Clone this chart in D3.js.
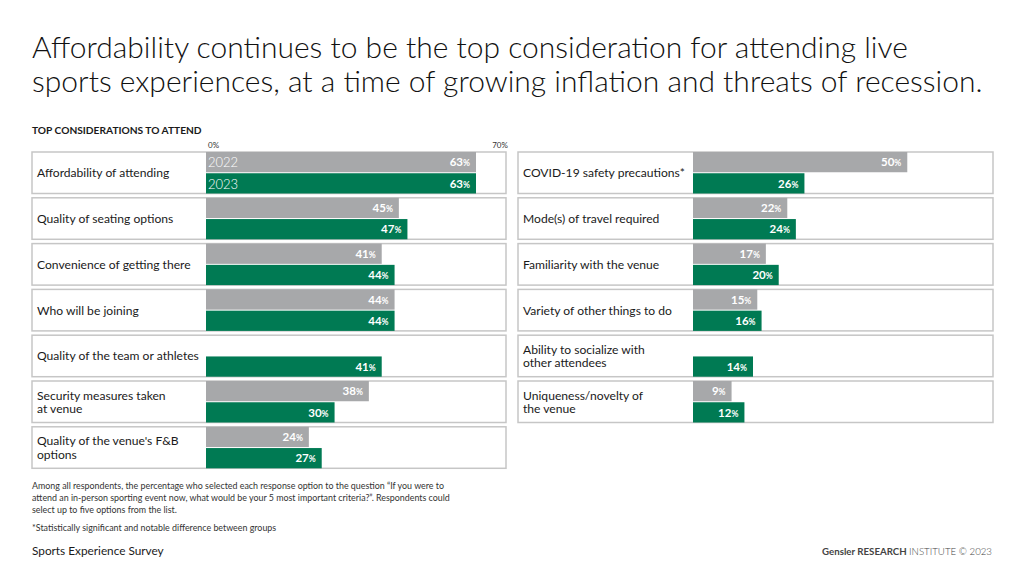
<!DOCTYPE html>
<html><head><meta charset="utf-8">
<script src="https://cdn.jsdelivr.net/npm/d3@7"></script>
<style>body{margin:0;background:#fff;} svg{display:block;}</style>
</head><body>
<script>
const leftCategories = [
  ["Affordability of attending"],
  ["Quality of seating options"],
  ["Convenience of getting there"],
  ["Who will be joining"],
  ["Quality of the team or athletes"],
  ["Security measures taken", "at venue"],
  ["Quality of the venue's F&B", "options"]
];
const left2022 = [63, 45, 41, 44, null, 38, 24];
const left2023 = [63, 47, 44, 44, 41, 30, 27];
const rightCategories = [
  ["COVID-19 safety precautions*"],
  ["Mode(s) of travel required"],
  ["Familiarity with the venue"],
  ["Variety of other things to do"],
  ["Ability to socialize with", "other attendees"],
  ["Uniqueness/novelty of", "the venue"]
];
const right2022 = [50, 22, 17, 15, null, 9];
const right2023 = [26, 24, 20, 16, 14, 12];
const seriesNames = ["2022", "2023"];
const axisTicks = [0, 70];

const W = 1024, H = 576;
const GRAY = "#a7a8aa", GREEN = "#007a53", BORDER = "#c6c6c6", TEXT = "#1a1a1a";
const FONT = "Lato, 'Open Sans', sans-serif";

const svg = d3.select("body").append("svg").attr("width", W).attr("height", H)
  .style("font-family", FONT);

// Title
const title = ["Affordability continues to be the top consideration for attending live",
  "sports experiences, at a time of growing inflation and threats of recession."];
svg.append("g").selectAll("text").data(title).join("text")
  .attr("x", 32).attr("y", (d, i) => 58 + i * 34)
  .attr("font-size", 30).attr("font-weight", 300).attr("fill", "#111")
  .text(d => d);

svg.append("text").attr("x", 32).attr("y", 134).attr("font-size", 10.2)
  .attr("font-weight", 700).attr("fill", TEXT).text("TOP CONSIDERATIONS TO ATTEND");

function panel(cats, v22, v23, boxX0, barX0, showAxis) {
  const x = d3.scaleLinear().domain([0, 70]).range([barX0, barX0 + 300]);
  const rowTop = i => 152 + i * 45.8;
  const boxH = 41.5;
  const g = svg.append("g");

  if (showAxis) {
    g.selectAll("text.tick").data(axisTicks).join("text").attr("class", "tick")
      .attr("x", d => x(d) + (d === 0 ? 2 : -6)).attr("y", 148)
      .attr("text-anchor", d => d === 0 ? "start" : "middle")
      .attr("font-size", 8).attr("fill", "#333")
      .text(d => d + "%");
  }
  cats.forEach((lines, i) => {
    const y0 = rowTop(i);
    g.append("rect").attr("x", boxX0).attr("y", y0).attr("width", x(70) - boxX0).attr("height", boxH)
      .attr("fill", "#fff").attr("stroke", BORDER).attr("stroke-width", 1.5);
    const lh = 13.5;
    const cy = y0 + boxH / 2 + 4.5 - (lines.length - 1) * lh / 2;
    lines.forEach((t, j) => {
      g.append("text").attr("x", boxX0 + 5).attr("y", cy + j * lh)
        .attr("font-size", 12.1).attr("fill", TEXT).text(t);
    });
    const vals = [v22[i], v23[i]];
    const bh = boxH / 2;
    vals.forEach((v, k) => {
      if (v == null) return;
      const by = y0 + k * bh + (k === 1 ? 0.5 : 0);
      g.append("rect").attr("x", x(0)).attr("y", by).attr("width", x(v) - x(0)).attr("height", bh - 0.5)
        .attr("fill", k === 0 ? GRAY : GREEN);
      const t = g.append("text").attr("x", x(v) - 6).attr("y", by + bh / 2 + 4)
        .attr("text-anchor", "end").attr("fill", "#fff").attr("font-weight", 700).attr("font-size", 11.5);
      t.append("tspan").text(v);
      t.append("tspan").attr("font-size", 8.5).text("%");
      if (i === 0 && showAxis) {
        g.append("text").attr("x", x(0) + 2).attr("y", by + bh / 2 + 5)
          .attr("font-size", 13).attr("fill", "#fff").attr("font-weight", 300).text(seriesNames[k]);
      }
    });
  });
}
panel(leftCategories, left2022, left2023, 32, 206, true);
panel(rightCategories, right2022, right2023, 518, 693, false);

const notes = ["Among all respondents, the percentage who selected each response option to the question \u201CIf you were to",
  "attend an in-person sporting event now, what would be your 5 most important criteria?\u201D. Respondents could",
  "select up to five options from the list."];
svg.append("g").selectAll("text").data(notes).join("text")
  .attr("x", 32).attr("y", (d, i) => 489 + i * 12).attr("font-size", 8.9).attr("fill", "#333").text(d => d);
svg.append("text").attr("x", 32).attr("y", 531).attr("font-size", 8.9).attr("fill", "#333")
  .text("*Statistically significant and notable difference between groups");
svg.append("text").attr("x", 32).attr("y", 555).attr("font-size", 11.8).attr("fill", TEXT)
  .text("Sports Experience Survey");
const brand = svg.append("text").attr("x", 992).attr("y", 555).attr("text-anchor", "end")
  .attr("font-size", 9.7).attr("fill", "#444");
brand.append("tspan").attr("font-weight", 700).text("Gensler RESEARCH ");
brand.append("tspan").attr("font-weight", 300).text("INSTITUTE \u00A9 2023");
</script>
</body></html>
